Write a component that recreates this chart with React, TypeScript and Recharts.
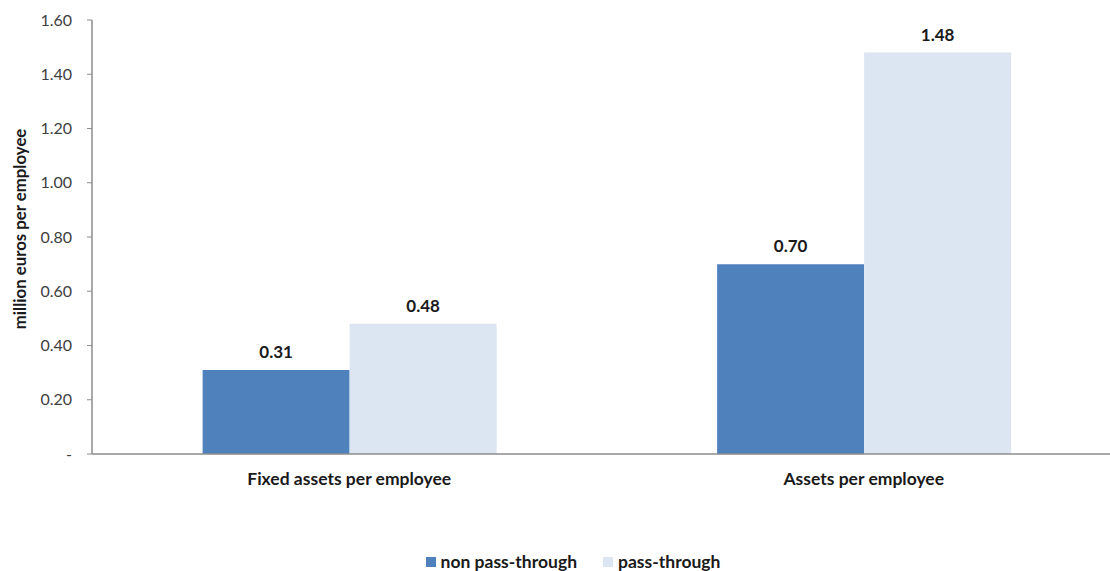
import {
  Bar,
  BarChart,
  LabelList,
  Legend,
  XAxis,
  YAxis,
} from "recharts";

const categories = ["Fixed assets per employee", "Assets per employee"];
const nonPassThrough = [0.31, 0.7];
const passThrough = [0.48, 1.48];
const yTicks = [0, 0.2, 0.4, 0.6, 0.8, 1.0, 1.2, 1.4, 1.6];
const edgeTicks = [0, 1, 2];

const seriesNames = ["non pass-through", "pass-through"];
const colors = ["#4F81BD", "#DCE6F2"];
const font = "Lato, 'Open Sans', sans-serif";

const data = categories.map((name, i) => ({
  name,
  nonPass: nonPassThrough[i],
  pass: passThrough[i],
}));

function CategoryTick(props: any) {
  const { x, y, payload } = props;
  return (
    <text
      x={x}
      y={y}
      dy={31}
      textAnchor="middle"
      fontFamily={font}
      fontWeight={700}
      fontSize={17.5}
      fill="#1a1a1a"
    >
      {payload.value}
    </text>
  );
}

function YLabel(props: any) {
  const { viewBox } = props;
  const cy = viewBox.y + viewBox.height / 2 - 8;
  return (
    <text
      x={19}
      y={cy}
      transform={`rotate(-90, 19, ${cy})`}
      textAnchor="middle"
      dominantBaseline="central"
      fontFamily={font}
      fontWeight={700}
      fontSize={16.8}
      fill="#1a1a1a"
    >
      million euros per employee
    </text>
  );
}

function LegendContent() {
  return (
    <div
      style={{
        height: 57,
        paddingTop: 38,
        boxSizing: "border-box",
        display: "flex",
        justifyContent: "center",
        fontFamily: font,
        fontWeight: 700,
        fontSize: 17.5,
        color: "#1a1a1a",
        lineHeight: "20px",
        paddingLeft: 25,
      }}
    >
      {seriesNames.map((n, i) => (
        <span
          key={n}
          style={{ display: "flex", alignItems: "center", marginRight: i === 0 ? 26 : 0 }}
        >
          <span
            style={{
              width: 10,
              height: 10,
              background: colors[i],
              display: "inline-block",
              marginRight: 5,
            }}
          />
          {n}
        </span>
      ))}
    </div>
  );
}

export default function App() {
  return (
    <div
      style={{
        position: "fixed",
        left: 0,
        top: 0,
        width: 1110,
        height: 571,
        overflow: "hidden",
        background: "#fff",
      }}
    >
      <BarChart
        width={1140}
        height={571}
        data={data}
        margin={{ top: 20, right: 19, left: 0, bottom: 0 }}
        barCategoryGap="21.5%"
        barGap={0}
      >
        <XAxis
          xAxisId="edge"
          type="number"
          domain={[0, 2]}
          ticks={edgeTicks}
          tick={false}
          axisLine={false}
          tickLine={{ stroke: "#8c8c8c" }}
          tickSize={5}
          height={0}
        />
        <XAxis
          dataKey="name"
          tick={<CategoryTick />}
          tickLine={false}
          tickSize={0}
          tickMargin={0}
          axisLine={{ stroke: "#8c8c8c", strokeWidth: 1.5 }}
          height={60}
          interval={0}
        />
        <YAxis
          width={92}
          domain={[0, 1.6]}
          ticks={yTicks}
          interval={0}
          axisLine={{ stroke: "#8c8c8c", strokeWidth: 1.5 }}
          tickLine={{ stroke: "#8c8c8c" }}
          tickSize={5}
          tickMargin={15}
          tick={{ fontFamily: font, fontSize: 16, fill: "#404040" }}
          tickFormatter={(v: number) => (v === 0 ? "-" : v.toFixed(2))}
          label={<YLabel />}
        />
        <Legend verticalAlign="bottom" content={<LegendContent />} />
        <Bar dataKey="nonPass" name={seriesNames[0]} fill={colors[0]} isAnimationActive={false}>
          <LabelList
            dataKey="nonPass"
            position="top"
            offset={12}
            formatter={(v: number) => v.toFixed(2)}
            style={{ fontFamily: font, fontWeight: 700, fontSize: 17, fill: "#1a1a1a" }}
          />
        </Bar>
        <Bar dataKey="pass" name={seriesNames[1]} fill={colors[1]} isAnimationActive={false}>
          <LabelList
            dataKey="pass"
            position="top"
            offset={12}
            formatter={(v: number) => v.toFixed(2)}
            style={{ fontFamily: font, fontWeight: 700, fontSize: 17, fill: "#1a1a1a" }}
          />
        </Bar>
      </BarChart>
    </div>
  );
}
